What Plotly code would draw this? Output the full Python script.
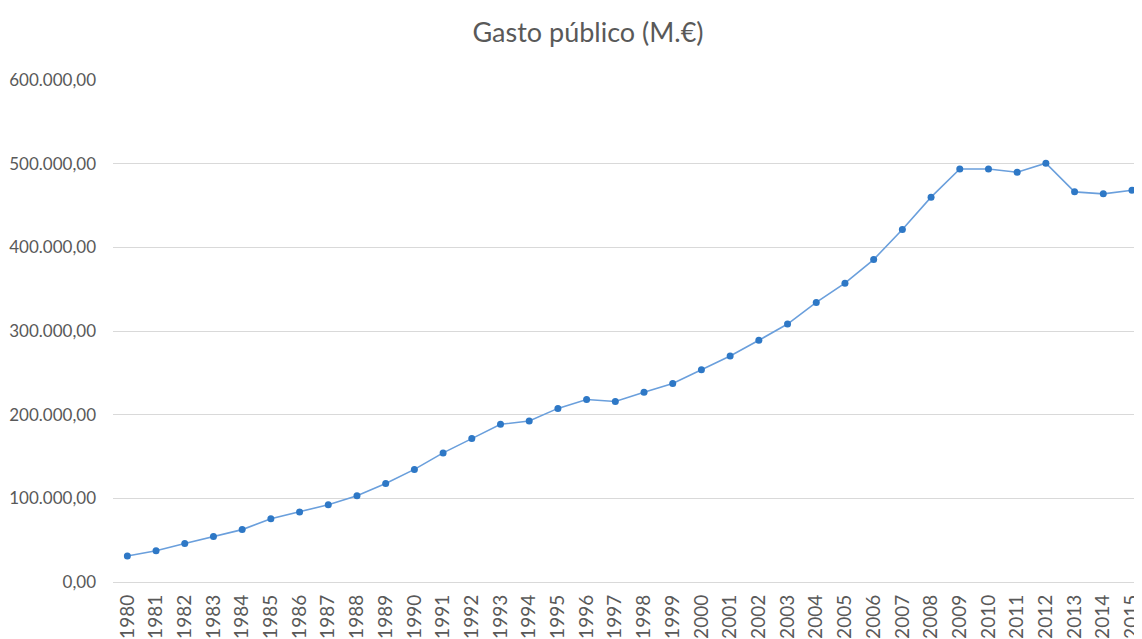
import plotly.graph_objects as go

years = [str(y) for y in range(1980, 2016)]
gasto = [31100, 37400, 46000, 54300, 62600, 75600, 83800, 92400, 103000, 117700,
         134600, 154300, 171400, 188500, 192400, 207500, 218200, 215800, 226900, 237300,
         253600, 270200, 288900, 308300, 334200, 357100, 385400, 421400, 460000, 493700,
         493700, 489800, 500500, 466300, 463900, 468300]
y_ticks = [0, 100000, 200000, 300000, 400000, 500000, 600000]
title_text = "Gasto público (M.€)"

# page body has an 8px margin, so the figure is sized to fit the window
W, H = 1134, 631

fig = go.Figure()
fig.add_trace(go.Scatter(
    x=years, y=gasto, mode="lines+markers",
    line=dict(color="#6a9fdc", width=1.6),
    marker=dict(color="#2e78c6", size=7),
    cliponaxis=False,
))
fig.update_layout(
    width=W, height=H,
    paper_bgcolor="white", plot_bgcolor="white",
    separators=",.",
    font=dict(family="Lato, Open Sans, sans-serif", color="#595959", size=16),
    title=dict(text=title_text, x=580 / W, xanchor="center",
               y=1 - 25 / H, yanchor="middle",
               font=dict(size=27, color="#595959")),
    margin=dict(l=105, r=0, t=72, b=55),
    showlegend=False,
    xaxis=dict(type="category", range=[-0.5, 35.07], tickangle=-90,
               showgrid=False, showline=False, ticks="", ticklabelstandoff=8,
               tickfont=dict(size=19)),
    yaxis=dict(range=[0, 600000], tickvals=y_ticks, tickformat=",.2f",
               showgrid=True, gridcolor="#d9d9d9", gridwidth=1,
               zeroline=True, zerolinecolor="#d9d9d9", zerolinewidth=1,
               showline=False, ticks="", ticklabelstandoff=16,
               tickfont=dict(size=17)),
)
fig.write_html("out.html")
